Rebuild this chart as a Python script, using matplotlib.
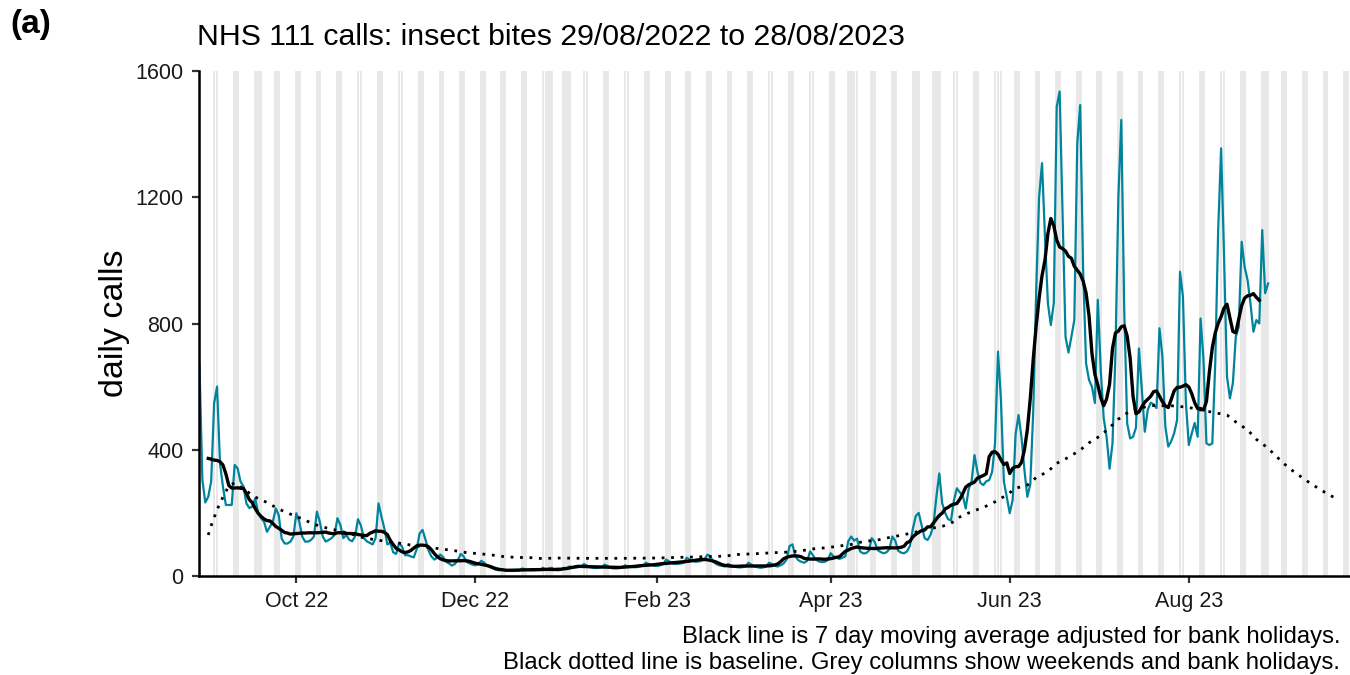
import pandas as pd
import numpy as np
import matplotlib
matplotlib.use("Agg")
import matplotlib.pyplot as plt
import matplotlib.dates as mdates

plt.rcParams["font.family"] = ["Liberation Sans", "DejaVu Sans"]

# ====================================
# daily NHS 111 calls, Mon..Sun per row, from 29/08/2022

calls = [
    670, 304, 233, 251, 300, 547, 600,   # Aug 29
    357, 283, 225, 225, 225, 352, 341,   # Sep 5
    299, 284, 230, 215, 220, 246, 199,   # Sep 12
    183, 172, 140, 156, 172, 214, 193,   # Sep 19
    119, 103, 103, 109, 125, 199, 172,   # Sep 26
    125, 109, 109, 114, 125, 204, 172,   # Oct 3
    125, 109, 114, 120, 130, 183, 162,   # Oct 10
    120, 130, 115, 110, 125, 180, 160,   # Oct 17
    120, 110, 105, 100, 120, 230, 188,   # Oct 24
    150, 100, 105, 75, 70, 104, 93,      # Oct 31
    66, 66, 62, 59, 85, 135, 146,        # Nov 7
    115, 82, 62, 52, 58, 68, 60,         # Nov 14
    45, 40, 33, 38, 50, 70, 62,          # Nov 21
    45, 40, 36, 34, 38, 48, 42,          # Nov 28
    32, 28, 24, 20, 18, 22, 19,          # Dec 5
    18, 17, 16, 17, 18, 24, 21,          # Dec 12
    19, 18, 18, 19, 20, 26, 20,          # Dec 19
    24, 26, 20, 18, 19, 26, 24,          # Dec 26
    30, 28, 27, 28, 30, 38, 33,          # Jan 2
    28, 26, 25, 26, 28, 36, 32,          # Jan 9
    26, 24, 24, 25, 27, 34, 30,          # Jan 16
    30, 28, 28, 30, 32, 42, 38,          # Jan 23
    35, 32, 32, 34, 38, 52, 46,          # Jan 30
    40, 38, 38, 40, 42, 58, 52,          # Feb 6
    48, 45, 46, 48, 52, 68, 62,          # Feb 13
    45, 38, 34, 32, 30, 38, 34,          # Feb 20
    30, 28, 27, 28, 30, 42, 36,          # Feb 27
    30, 28, 26, 27, 30, 42, 38,          # Mar 6
    32, 30, 34, 40, 52, 95, 100,         # Mar 13
    62, 50, 45, 42, 48, 78, 65,          # Mar 20
    52, 46, 44, 45, 50, 72, 62,          # Mar 27
    58, 54, 58, 62, 110, 125, 112,       # Apr 3
    118, 78, 72, 72, 80, 120, 108,       # Apr 10
    82, 76, 72, 75, 85, 125, 112,        # Apr 17
    80, 74, 72, 78, 95, 150, 190,        # Apr 24
    200, 160, 120, 114, 130, 160, 250,   # May 1
    325, 230, 200, 180, 176, 240, 278,   # May 8
    265, 255, 214, 275, 300, 383, 330,   # May 15
    295, 288, 300, 304, 330, 420, 711,   # May 22
    560, 299, 250, 199, 241, 450, 510,   # May 29
    440, 336, 251, 290, 520, 900, 1200,  # Jun 5
    1308, 1075, 864, 795, 864, 1487, 1535,  # Jun 12
    1149, 758, 708, 758, 811, 1371, 1492,   # Jun 19
    970, 674, 621, 600, 548, 875, 653,      # Jun 26
    500, 440, 340, 420, 700, 1200, 1445,    # Jul 3
    843, 484, 436, 441, 470, 721, 589,      # Jul 10
    457, 526, 549, 544, 532, 785, 695,      # Jul 17
    473, 410, 427, 452, 494, 964, 885,      # Jul 24
    549, 415, 452, 485, 441, 816, 685,      # Jul 31
    420, 415, 420, 674, 1096, 1355, 1012,   # Aug 7
    632, 563, 611, 758, 789, 1059, 980,     # Aug 14
    938, 864, 774, 811, 800, 1096, 896,     # Aug 21
    927,                                    # Aug 28
]

bank_holidays = ["2022-08-29", "2022-09-19", "2022-12-26", "2022-12-27",
                 "2023-01-02", "2023-04-07", "2023-04-10", "2023-05-01",
                 "2023-05-08", "2023-05-29", "2023-08-28"]

baseline_dates = [
    "2022-09-01", "2022-09-02", "2022-09-04", "2022-09-06", "2022-09-08",
    "2022-09-10", "2022-09-17", "2022-09-21", "2022-09-25", "2022-09-29",
    "2022-10-03", "2022-10-07", "2022-10-11", "2022-10-19", "2022-10-24",
    "2022-10-29", "2022-11-02", "2022-11-07", "2022-11-11", "2022-11-15",
    "2022-11-20", "2022-11-24", "2022-11-28", "2022-12-03", "2022-12-07",
    "2022-12-11", "2022-12-15", "2022-12-20", "2022-12-24", "2022-12-28",
    "2023-01-08", "2023-01-20", "2023-02-01", "2023-02-12", "2023-02-24",
    "2023-02-28", "2023-03-05", "2023-03-09", "2023-03-13", "2023-03-18",
    "2023-03-22", "2023-03-26", "2023-03-31", "2023-04-04", "2023-04-08",
    "2023-04-12", "2023-04-17", "2023-04-21", "2023-04-26", "2023-04-30",
    "2023-05-04", "2023-05-08", "2023-05-12", "2023-05-15", "2023-05-19",
    "2023-05-23", "2023-05-27", "2023-05-31", "2023-06-03", "2023-06-07",
    "2023-06-10", "2023-06-14", "2023-06-17", "2023-06-21", "2023-06-25",
    "2023-06-28", "2023-07-02", "2023-07-05", "2023-07-08", "2023-07-12",
    "2023-07-19", "2023-07-27", "2023-08-01", "2023-08-05", "2023-08-09",
    "2023-08-14", "2023-08-17", "2023-08-21", "2023-08-24", "2023-08-27",
    "2023-08-30", "2023-09-02", "2023-09-05", "2023-09-09", "2023-09-12",
    "2023-09-16", "2023-09-20",
]
baseline = [
    130, 160, 210, 250, 285,
    295, 250, 233, 212, 196,
    181, 164, 153, 135, 121,
    113, 109, 101, 95, 91,
    85, 80, 74, 70, 66,
    61, 59, 58, 55, 57,
    56, 56, 57, 60, 63,
    68, 70, 72, 74, 76,
    80, 86, 90, 95, 100,
    109, 114, 122, 131, 139,
    151, 154, 167, 187, 204,
    217, 235, 257, 278, 288,
    312, 331, 357, 376, 399,
    422, 445, 470, 497, 523,
    540, 539, 534, 526, 519,
    510, 488, 463, 433, 412,
    387, 359, 336, 309, 290,
    267, 246,
]

tick_dates = ["2022-10-01", "2022-12-01", "2023-02-01",
              "2023-04-01", "2023-06-01", "2023-08-01"]
tick_labels = ["Oct 22", "Dec 22", "Feb 23", "Apr 23", "Jun 23", "Aug 23"]

# ====================================

dates = pd.date_range("2022-08-29", periods=len(calls), freq="D")
df = pd.DataFrame({"date": dates, "calls": calls})
bh = pd.to_datetime(bank_holidays)
df["bh"] = df["date"].isin(bh)

# 7 day centred moving average, bank holidays left out of the window
vals = df["calls"].where(~df["bh"])
df["ma"] = vals.rolling(7, center=True, min_periods=1).mean()
df.loc[:2, "ma"] = np.nan
df.loc[len(df) - 3:, "ma"] = np.nan

# grey columns: weekends and bank holidays over the whole axis
all_days = pd.date_range("2022-08-29", "2023-09-26", freq="D")
grey = all_days[(all_days.dayofweek >= 5) | all_days.isin(bh)]

# ====================================

fig = plt.figure(figsize=(13.5, 6.75), dpi=100)
ax = fig.add_axes([199 / 1350, 99 / 675, 1 - 199 / 1350, 505 / 675])

ax.bar(grey, 1600, width=0.92, bottom=0, color="#e8e8e8",
       linewidth=0, zorder=0, align="center")

ax.plot(df["date"], df["calls"], color="#00849c", linewidth=1.6, zorder=2)
ax.plot(df["date"], df["ma"], color="black", linewidth=2.4, zorder=3)
ax.plot(pd.to_datetime(baseline_dates), baseline, color="black",
        linewidth=2.0, linestyle=(0, (1, 2.4)), zorder=3)

x0 = mdates.date2num(pd.Timestamp("2022-08-29"))
ax.set_xlim(x0 - 0.15, x0 + 391.9)
ax.set_ylim(0, 1600)

ax.set_yticks([0, 400, 800, 1200, 1600])
ax.set_xticks(pd.to_datetime(tick_dates))
ax.set_xticklabels(tick_labels)

for s in ["top", "right"]:
    ax.spines[s].set_visible(False)
for s in ["left", "bottom"]:
    ax.spines[s].set_linewidth(1.8)
    ax.spines[s].set_color("black")

ax.tick_params(axis="both", length=5, width=1.6, color="#333333",
               labelsize=15.5, labelcolor="#1a1a1a", pad=6)

fig.text(10 / 1350, 1 - 25 / 675, "(a)", fontsize=24, fontweight="bold",
         va="center", ha="left")
fig.text(197 / 1350, 1 - 37 / 675,
         "NHS 111 calls: insect bites 29/08/2022 to 28/08/2023",
         fontsize=21.8, va="center", ha="left")
fig.text(115 / 1350, 1 - 323 / 675, "daily calls", fontsize=24.5,
         rotation=90, va="center", ha="center")
fig.text(1340 / 1350, 1 - 637 / 675,
         "Black line is 7 day moving average adjusted for bank holidays.",
         fontsize=17.2, ha="right", va="center")
fig.text(1340 / 1350, 1 - 663 / 675,
         "Black dotted line is baseline. Grey columns show weekends and bank holidays.",
         fontsize=17.2, ha="right", va="center")

fig.savefig("out.png", dpi=100)
